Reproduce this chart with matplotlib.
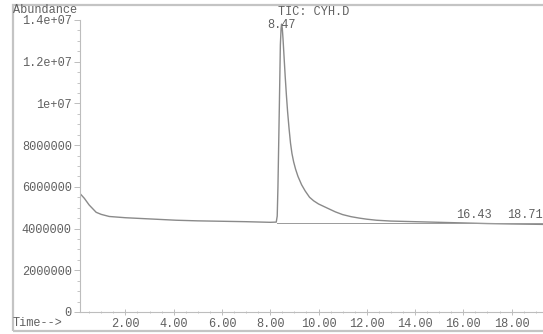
import matplotlib
matplotlib.use("Agg")
import matplotlib.pyplot as plt
from matplotlib.patches import Rectangle
from matplotlib.ticker import MultipleLocator

# chromatogram trace (time in min, abundance)
time_min = [0.12, 0.3, 0.5, 0.79, 1.0, 1.33, 2.0, 2.7, 4.1, 5.0, 6.0, 7.0, 8.0,
            8.25, 8.29, 8.32, 8.35, 8.38, 8.42, 8.45, 8.47, 8.50, 8.53, 8.57,
            8.62, 8.67, 8.72, 8.78, 8.84, 8.90, 8.97, 9.05, 9.15, 9.30, 9.45,
            9.63, 9.80, 10.0, 10.33, 10.7, 11.0, 11.35, 11.7, 12.0, 12.4,
            13.0, 14.0, 15.0, 16.0, 17.0, 18.0, 19.3]
abundance = [5.68e6, 5.45e6, 5.13e6, 4.78e6, 4.68e6, 4.58e6, 4.52e6, 4.48e6,
             4.40e6, 4.37e6, 4.35e6, 4.33e6, 4.30e6,
             4.31e6, 4.6e6, 6.0e6, 8.0e6, 1.0e7, 1.28e7, 1.36e7, 1.38e7,
             1.36e7, 1.31e7, 1.23e7, 1.13e7, 1.04e7, 9.6e6, 8.8e6, 8.1e6,
             7.6e6, 7.2e6, 6.85e6, 6.5e6, 6.1e6, 5.8e6, 5.5e6, 5.33e6, 5.18e6,
             5.0e6, 4.8e6, 4.67e6, 4.57e6, 4.5e6, 4.45e6, 4.4e6,
             4.36e6, 4.33e6, 4.30e6, 4.27e6, 4.24e6, 4.22e6, 4.20e6]

# integration baseline under the peak
base_t = [8.28, 19.3]
base_y = [4.28e6, 4.28e6]

peak_labels = ["8.47", "16.43", "18.71"]
peak_times = [8.47, 16.43, 18.71]
peak_label_y = [1.375e7, 4.65e6, 4.65e6]

y_ticks = [0, 2e6, 4e6, 6e6, 8e6, 1e7, 1.2e7, 1.4e7]
y_tick_labels = ["0", "2000000", "4000000", "6000000", "8000000",
                 "1e+07", "1.2e+07", "1.4e+07"]
x_ticks = [2, 4, 6, 8, 10, 12, 14, 16, 18]
x_tick_labels = [f"{t:.2f}" for t in x_ticks]

FONT = "Liberation Mono"
FS = 8.6
TXT = "#606060"
AXC = "#bdbdbd"

fig = plt.figure(figsize=(5.43, 3.34), dpi=100)
fig.patches.append(Rectangle((0.024, 0.009), 1.2, 0.976, transform=fig.transFigure,
                             fill=False, edgecolor="#c4c4c4", linewidth=1.6))

ax = fig.add_axes([80 / 543, 22 / 334, 1 - 80 / 543, 292 / 334])
ax.plot(time_min, abundance, color="#8a8a8a", linewidth=1.0)
ax.plot(base_t, base_y, color="#9a9a9a", linewidth=0.7)

ax.set_xlim(0.12, 19.3)
ax.set_ylim(0, 1.4e7)

for s in ["top", "right"]:
    ax.spines[s].set_visible(False)
for s in ["left", "bottom"]:
    ax.spines[s].set_color(AXC)
    ax.spines[s].set_linewidth(0.8)

ax.set_yticks(y_ticks)
ax.set_yticklabels(y_tick_labels, fontfamily=FONT, fontsize=FS, color=TXT)
ax.set_xticks(x_ticks)
ax.set_xticklabels(x_tick_labels, fontfamily=FONT, fontsize=FS, color=TXT)
ax.xaxis.set_minor_locator(MultipleLocator(0.5))
ax.yaxis.set_minor_locator(MultipleLocator(5e5))
ax.tick_params(axis="both", which="major", color=AXC, length=4, width=0.7, pad=2)
ax.tick_params(axis="both", which="minor", color=AXC, length=2, width=0.6)
ax.tick_params(axis="x", which="both", direction="inout")

# last label sits against the right edge, as in the instrument printout
for i, (lab, t, yv) in enumerate(zip(peak_labels, peak_times, peak_label_y)):
    if i == len(peak_labels) - 1:
        ax.text(19.28, yv, lab, ha="right", va="center", fontfamily=FONT,
                fontsize=FS, color=TXT)
    else:
        ax.text(t, yv, lab, ha="center", va="center", fontfamily=FONT,
                fontsize=FS, color=TXT, clip_on=False)

fig.text(314 / 543, 1 - 12 / 334, "TIC: CYH.D", ha="center", va="center",
         fontfamily=FONT, fontsize=FS, color=TXT)
fig.text(13 / 543, 1 - 10 / 334, "Abundance", ha="left", va="center",
         fontfamily=FONT, fontsize=FS, color=TXT)
fig.text(13 / 543, 1 - 323 / 334, "Time-->", ha="left", va="center",
         fontfamily=FONT, fontsize=FS, color=TXT)

fig.savefig("out.png", dpi=100)
